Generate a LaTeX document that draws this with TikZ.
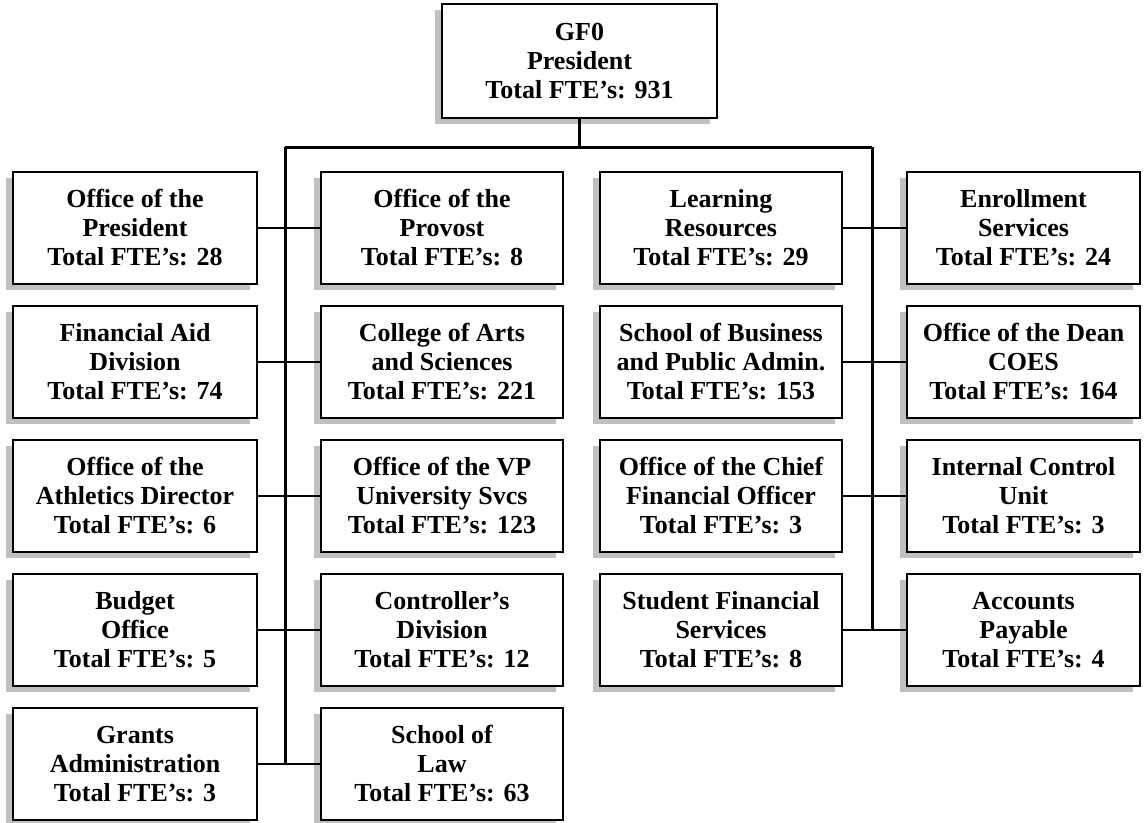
\documentclass[tikz,border=0pt]{standalone}
\usepackage{fontspec}
\setmainfont{Liberation Serif}
\usetikzlibrary{shadows}
\definecolor{shadowgrey}{RGB}{192,192,192}
\tikzset{
  unit/.style={draw=black, line width=2.2pt, fill=white, align=center,
    minimum width=242pt, minimum height=112pt, inner sep=0pt,
    font=\bfseries\fontsize{26}{29}\selectfont,
    general shadow={fill=shadowgrey, shadow xshift=-7pt, shadow yshift=-6pt}},
  bus/.style={line width=3pt},
  link/.style={line width=2pt}
}
\begin{document}
\begin{tikzpicture}[x=1pt,y=-1pt]
\useasboundingbox (0,0) rectangle (1145,822);
% top
\node[unit, minimum width=275pt, minimum height=114pt] (top) at (579.5,61) {GF0\\President\\Total FTE's: 931};
% column 1
\node[unit, minimum width=244pt] (a1) at (135,228) {Office of the\\President\\Total FTE's: 28};
\node[unit, minimum width=244pt] (a2) at (135,362) {Financial Aid\\Division\\Total FTE's: 74};
\node[unit, minimum width=244pt] (a3) at (135,496) {Office of the\\Athletics Director\\Total FTE's: 6};
\node[unit, minimum width=244pt] (a4) at (135,630) {Budget\\Office\\Total FTE's: 5};
\node[unit, minimum width=244pt] (a5) at (135,764) {Grants\\Administration\\Total FTE's: 3};
% column 2
\node[unit] (b1) at (442,228) {Office of the\\Provost\\Total FTE's: 8};
\node[unit] (b2) at (442,362) {College of Arts\\and Sciences\\Total FTE's: 221};
\node[unit] (b3) at (442,496) {Office of the VP\\University Svcs\\Total FTE's: 123};
\node[unit] (b4) at (442,630) {Controller's\\Division\\Total FTE's: 12};
\node[unit] (b5) at (442,764) {School of\\Law\\Total FTE's: 63};
% column 3
\node[unit] (c1) at (721,228) {Learning\\Resources\\Total FTE's: 29};
\node[unit] (c2) at (721,362) {School of Business\\and Public Admin.\\Total FTE's: 153};
\node[unit] (c3) at (721,496) {Office of the Chief\\Financial Officer\\Total FTE's: 3};
\node[unit] (c4) at (721,630) {Student Financial\\Services\\Total FTE's: 8};
% column 4
\node[unit, minimum width=233pt] (d1) at (1023.5,228) {Enrollment\\Services\\Total FTE's: 24};
\node[unit, minimum width=233pt] (d2) at (1023.5,362) {Office of the Dean\\COES\\Total FTE's: 164};
\node[unit, minimum width=233pt] (d3) at (1023.5,496) {Internal Control\\Unit\\Total FTE's: 3};
\node[unit, minimum width=233pt] (d4) at (1023.5,630) {Accounts\\Payable\\Total FTE's: 4};
% buses
\coordinate (busL) at (285,147);
\coordinate (busR) at (872,147);
\draw[bus] (top.south) -- (top.south |- busL);
\draw[bus] (busL) -- (busR);
\draw[bus] (busL) -- (busL |- a5.east);
\draw[bus] (busR) -- (busR |- c4.east);
% links
\foreach \i in {1,...,5} \draw[link] (a\i.east) -- (b\i.west);
\foreach \i in {1,...,4} \draw[link] (c\i.east) -- (d\i.west);
\end{tikzpicture}
\end{document}
